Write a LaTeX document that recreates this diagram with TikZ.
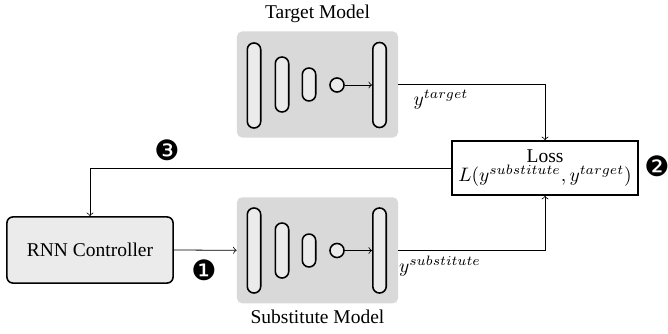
\documentclass[tikz,border=0pt]{standalone}
\usepackage{fontspec}
\setmainfont{Liberation Serif}
\newfontfamily\dingfont{DejaVu Sans}
\usepackage{amsmath}
\definecolor{boxgray}{RGB}{217,217,217}
\definecolor{layergray}{RGB}{235,235,235}

\begin{document}
\begin{tikzpicture} [x=0.513pt, y=-0.513pt]
\tikzset{
  modelbox/.style={fill=boxgray, rounded corners=2.6pt, minimum width=82.6pt, minimum height=54.4pt, inner sep=0pt},
  layer/.style={draw, thick, fill=layergray, rounded corners=3.4pt, minimum width=6.9pt, inner sep=0pt},
  unit/.style={draw, thick, fill=layergray, circle, minimum size=7.2pt, inner sep=0pt},
  stepnum/.style={font=\dingfont\Large}
}
\useasboundingbox (0,0) rectangle (668,333);
% target model
\node[modelbox] (tbox) at (317.5, 84.5){};
\node at (317.5, 14){Target Model};
\node[layer, minimum height=43.6pt] (t1) at (254, 85.5){};
\node[layer, minimum height=28.2pt] (t2) at (282, 84.5){};
\node[layer, minimum height=16.9pt] (t3) at (309, 84.5){};
\node[unit] (tc) at (337, 85){};
\node[layer, minimum height=43.6pt] (tout) at (379.5, 85){};
\draw[->] (tc) -- (tout);
% substitute model
\node[modelbox] (sbox) at (317.5, 250.3){};
\node at (317.5, 317){Substitute Model};
\node[layer, minimum height=43.6pt] (s1) at (254, 250.5){};
\node[layer, minimum height=28.2pt] (s2) at (282, 250.5){};
\node[layer, minimum height=16.9pt] (s3) at (309, 250.5){};
\node[unit] (sc) at (337, 250.5){};
\node[layer, minimum height=43.6pt] (sout) at (379.5, 250.5){};
\draw[->] (sc) -- (sout);
% loss and controller
\node[draw, thick, minimum width=95.4pt, minimum height=27.7pt, align=center, inner sep=0pt] (loss) at (545, 168){Loss\\[-2pt]$L(y^{substitute}, y^{target})$};
\node[draw, thick, fill=layergray, rounded corners=3pt, minimum width=85.2pt, minimum height=33.9pt] (rnn) at (90, 250){RNN Controller};
\node (ytgt) at (441, 100){$y^{target}$};
\node (ysub) at (440, 266){$y^{substitute}$};
\node[stepnum] (n1) at (204, 270){❶};
\node[stepnum] (n2) at (657, 166){❷};
\node[stepnum] (n3) at (167, 150){❸};
\draw[->] (tbox.east) -| (loss.north);
\draw[->] (sbox.east) -| (loss.south);
\draw[->] (loss.west) -| (rnn.north);
\draw[->] (rnn.east) -- (sbox.west);
\end{tikzpicture}
\end{document}
